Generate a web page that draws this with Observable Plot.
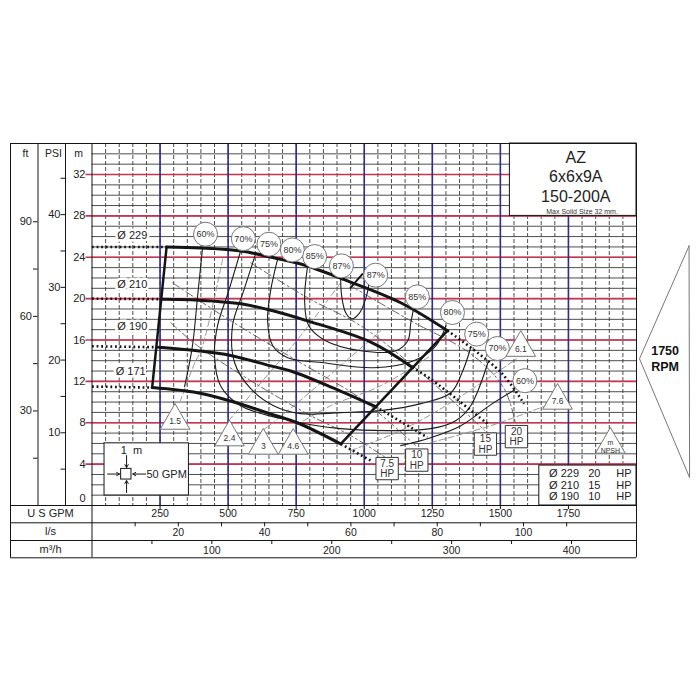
<!DOCTYPE html>
<html><head><meta charset="utf-8">
<script src="https://cdn.jsdelivr.net/npm/d3@7"></script>
<script src="https://cdn.jsdelivr.net/npm/@observablehq/plot@0.6"></script>
<style>html,body{margin:0;padding:0;background:#fff;}</style>
</head><body><div id="chart"></div>
<script>
// ---------- unit conversions ----------
const FT = 3.28084, PSI = 0.70307, LS = 15.8503, M3H = 4.40287;

// ---------- axis ticks ----------
const gpmTicks = [250, 500, 750, 1000, 1250, 1500, 1750];
const gpmMinor = d3.range(50, 2000, 50);
const headMinor = d3.range(1, 35, 1);
const redHeads = [4, 8, 12, 16, 20, 24, 28, 32];
const mLabels = [4, 8, 12, 16, 20, 24, 28, 32];
const ftLabels = [30, 60, 90];
const ftTicks = [15, 30, 45, 60, 75, 90];
const psiLabels = [10, 20, 30, 40];
const psiTicks = [5, 10, 15, 20, 25, 30, 35, 40, 45];
const lsLabels = [20, 40, 60, 80, 100];
const lsTicks = [10, 20, 30, 40, 50, 60, 70, 80, 90, 100, 110];
const m3hLabels = [100, 200, 300, 400];
const m3hTicks = [50, 100, 150, 200, 250, 300, 350, 400];

// ---------- head curves [GPM, m] ----------
const diaLabels = ["Ø 229", "Ø 210", "Ø 190", "Ø 171"];
const diaLabelGpm = [93, 93, 93, 87];
const diaLabelHead = [26.06, 21.33, 17.28, 12.96];
const shutoff = [25.0, 20.0, 15.4, 11.5];
const head229 = [[274,25.0],[399,24.9],[547,24.6],[693,23.8],[785,23.2],[950,21.6],[1134,19.6],[1306,16.9]];
const head210 = [[252,19.95],[362,19.9],[547,19.5],[668,18.8],[785,17.9],[1024,15.8],[1177,13.35]];
const head190 = [[246,15.3],[387,14.96],[509,14.5],[656,13.5],[730,13.0],[883,11.4],[1042,9.55]];
const head171 = [[221,11.4],[387,10.9],[509,10.1],[656,8.85],[754,8.0],[914,5.95]];
const tail229 = [[1306,16.9],[1502,12.87],[1587,9.82]];
const tail210 = [[1177,13.35],[1244,12.23],[1453,7.89]];
const tail190 = [[1042,9.55],[1232,6.59]];
const tail171 = [[914,5.95],[1024,4.34]];
const bepTick = [[950,21.07],[993,22.37]];

// ---------- efficiency curves ----------
const eff60L = [[406,24.9],[388,20.27],[369,15.44],[340,11.49]];
const eff60R = [[1134,5.79],[1244,6.56],[1355,7.72],[1465,9.75],[1553,11.2]];
const eff70 = [[546,24.62],[502,20.75],[461,17.37],[450,14.48],[472,11.58],[546,9.65],[730,8.2],[913,7.43],[1097,7.24],[1244,7.43],[1336,8.2],[1391,9.65],[1454,13.8]];
const eff75 = [[601,24.33],[557,20.75],[516,17.37],[524,13.8],[583,11.29],[667,9.65],[766,8.88],[913,8.98],[1061,9.17],[1208,9.85],[1318,10.9],[1362,13.03],[1391,15.25]];
const eff80 = [[682,23.84],[656,20.75],[645,17.86],[664,15.44],[719,14.29],[851,13.8],[1035,13.32],[1182,14.0],[1263,15.44],[1300,17.38]];
const eff85 = [[792,23.17],[781,19.79],[796,17.37],[858,15.93],[987,14.96],[1116,14.96],[1160,15.93],[1171,17.67],[1182,19.11]];
const eff87 = [[913,22.4],[917,20.27],[932,18.63],[954,18.05],[983,18.63],[1005,19.98],[1016,21.24],[1016,22.1]];
const effLabelText = ["60%","70%","75%","80%","85%","87%","87%","85%","80%","75%","70%","60%"];
const effLabelGpm  = [417, 556, 650, 736, 818, 916, 1042, 1195, 1324, 1413, 1489, 1590];
const effLabelHead = [26.23, 25.8, 25.26, 24.71, 24.07, 23.17, 22.27, 20.17, 18.66, 16.57, 15.18, 12.07];

// ---------- power curves ----------
const hp75 = [[289,17.67],[388,15.44],[583,12.07],[803,8.69],[950,6.76],[1079,4.63]];
const hp10 = [[296,21.53],[498,18.05],[766,13.8],[987,10.33],[1189,5.79]];
const hp15 = [[583,23.46],[792,20.08],[987,17.38],[1208,12.84],[1443,7.24]];
const hp20 = [[950,21.24],[1171,17.86],[1391,14.67],[1512,11.39],[1556,7.92]];
const hpText = ["7.5\nHP", "10\nHP", "15\nHP", "20\nHP"];
const hpGpm = [1084, 1193, 1445, 1559];
const hpHead = [3.57, 4.39, 5.94, 6.66];

// ---------- NPSH ----------
const npsh15 = [[480,23.84],[406,15.44],[373,13.51],[325,10.14]];
const npsh24 = [[502,8.2],[627,12.07],[766,16.41],[932,22.2]];
const npsh3  = [[627,7.24],[755,9.94],[913,13.51],[1061,16.89]];
const npsh46 = [[748,7.72],[877,9.65],[1061,11.58],[1244,14.48]];
const npsh61 = [[950,5.31],[1134,7.24],[1318,9.94],[1560,14.19]];
const npsh76 = [[1244,6.08],[1465,7.72],[1667,9.65]];
const npshText = ["1.5", "2.4", "3", "4.6", "6.1", "7.6"];
const npshGpm = [305, 505, 629, 739, 1575, 1710];
const npshHead = [8.2, 6.6, 5.79, 5.79, 15.25, 10.14];

// ---------- title / legend ----------
const titleLines = ["AZ", "6x6x9A", "150-200A"];
const titleHead = [33.65, 31.76, 29.88];
const legendDia = ["Ø 229", "Ø 210", "Ø 190"];
const legendHp = ["20", "15", "10"];
const legendHead = [3.12, 1.96, 0.87];
const rpmText = ["1750", "RPM"];
const rpmHead = [14.9, 13.4];

// ---------- layout boxes (data space) ----------
const titleBox = {x1: 1535, x2: 2000, y1: 28.0, y2: 35};
const legendBox = {x1: 1643, x2: 2000, y1: 0, y2: 3.86};
const scaleBox = {x1: 46, x2: 356, y1: 0.97, y2: 6.01};
const scaleSquare = {x1: 107, x2: 145, y1: 2.51, y2: 3.54};
const rpmShape = [[2193,25.1],[2011,14.19],[2195,2.7],[2193,25.1]];

const BLACK = "#151515", RED = "#c8344e", BLUE = "#2e2f88";
const font = "Liberation Sans, Arial, sans-serif";
const H = 362; // frame height px
const DOTS = "1.8,2.8";

const idx = a => a.map((_, i) => i);
const rowRule = dy => Plot.ruleY([0], {dy, insetLeft: -81.5, stroke: BLACK, strokeWidth: 1});
const header = (t, dx) => Plot.text([t], {frameAnchor: "top-left", dx, dy: 9.7, text: d => d, fontSize: 10.5, fill: "#222", textAnchor: "middle", lineAnchor: "middle"});
const rowLabel = (t, dy) => Plot.text([t], {frameAnchor: "bottom-left", dx: -41.5, dy, text: d => d, textAnchor: "middle", lineAnchor: "middle", fontSize: 11, fill: "#222"});

const marks = [
  // grid
  Plot.ruleY(headMinor, {stroke: "#3a3a3a", strokeWidth: 0.9}),
  Plot.ruleX(gpmMinor, {stroke: "#3a3a3a", strokeWidth: 0.9, strokeDasharray: "4,2"}),
  Plot.ruleY(redHeads, {stroke: RED, strokeWidth: 1.6, insetLeft: -6}),
  Plot.ruleX(gpmTicks, {stroke: BLUE, strokeWidth: 1.6}),

  // boxes
  Plot.rect([titleBox], {x1: "x1", x2: "x2", y1: "y1", y2: "y2", fill: "white", stroke: BLACK, strokeWidth: 1}),
  Plot.rect([legendBox], {x1: "x1", x2: "x2", y1: "y1", y2: "y2", fill: "white", stroke: BLACK, strokeWidth: 1}),
  Plot.rect([scaleBox], {x1: "x1", x2: "x2", y1: "y1", y2: "y2", fill: "white", stroke: BLACK, strokeWidth: 1}),

  // NPSH dashed lines
  ...[npsh15, npsh24, npsh3, npsh46, npsh61, npsh76].map(c =>
    Plot.line(c, {stroke: "#8a8a8a", strokeWidth: 0.9, strokeDasharray: "6,3", curve: "catmull-rom"})),
  // power dash-dot
  ...[hp75, hp10, hp15, hp20].map(c =>
    Plot.line(c, {stroke: "#555", strokeWidth: 0.9, strokeDasharray: "8,3,2,3", curve: "catmull-rom"})),
  // efficiency
  ...[eff60L, eff60R, eff70, eff75, eff80, eff85, eff87].map(c =>
    Plot.line(c, {stroke: "#1d1d1d", strokeWidth: 1.1, curve: "catmull-rom"})),

  // head curves
  ...[head229, head210, head190, head171].map((c, i) =>
    Plot.line([[0, shutoff[i]], c[0]], {stroke: BLACK, strokeWidth: 2.6, strokeDasharray: DOTS, strokeLinecap: "butt"})),
  ...[tail229, tail210, tail190, tail171].map(c =>
    Plot.line(c, {stroke: BLACK, strokeWidth: 2.6, strokeDasharray: DOTS, strokeLinecap: "butt", curve: "catmull-rom"})),
  ...[head229, head210, head190, head171].map(c =>
    Plot.line(c, {stroke: BLACK, strokeWidth: 3, curve: "catmull-rom"})),
  Plot.line([head229[0], head171[0]], {stroke: BLACK, strokeWidth: 2.5}),
  Plot.line([head229[head229.length-1], head171[head171.length-1]], {stroke: BLACK, strokeWidth: 2.5}),
  Plot.line(bepTick, {stroke: BLACK, strokeWidth: 2}),

  // efficiency labels
  Plot.dot(idx(effLabelText), {x: i => effLabelGpm[i], y: i => effLabelHead[i], r: 12, fill: "white", stroke: "#777", strokeWidth: 1}),
  Plot.text(idx(effLabelText), {x: i => effLabelGpm[i], y: i => effLabelHead[i], text: i => effLabelText[i], fontSize: 9, fill: "#333"}),
  // NPSH triangles
  Plot.dot(idx(npshText), {x: i => npshGpm[i], y: i => npshHead[i], symbol: "triangle", r: 11, fill: "white", stroke: "#777", strokeWidth: 1}),
  Plot.text(idx(npshText), {x: i => npshGpm[i], y: i => npshHead[i], text: i => npshText[i], fontSize: 8.5, fill: "#333", dy: 1}),
  Plot.dot([0], {x: 1904, y: 5.89, symbol: "triangle", r: 11, fill: "white", stroke: "#777", strokeWidth: 1}),
  Plot.text(["m\nNPSH"], {x: 1904, y: 5.89, text: d => d, fontSize: 7, lineHeight: 1.05, fill: "#333", dy: 2}),
  // HP boxes
  Plot.dot(idx(hpText), {x: i => hpGpm[i], y: i => hpHead[i], symbol: "square", r: 12.6, fill: "white", stroke: "#333", strokeWidth: 1}),
  Plot.text(idx(hpText), {x: i => hpGpm[i], y: i => hpHead[i], text: i => hpText[i], fontSize: 10, lineHeight: 1.05, fill: "#333"}),
  // diameter labels
  Plot.text(idx(diaLabels), {x: i => diaLabelGpm[i], y: i => diaLabelHead[i], text: i => diaLabels[i], fontSize: 11, fill: "#222", stroke: "white", strokeWidth: 5, textAnchor: "start"}),

  // title box text
  Plot.text(idx(titleLines), {x: 1777, y: i => titleHead[i], text: i => titleLines[i], fontSize: 16, fill: "#222"}),
  Plot.text(["Max Solid Size 32 mm."], {x: 1800, y: 28.4, text: d => d, fontSize: 7, fill: "#333"}),
  // legend box text
  Plot.text(idx(legendDia), {x: 1734, y: i => legendHead[i], text: i => legendDia[i], fontSize: 11, fill: "#222"}),
  Plot.text(idx(legendHp), {x: 1845, y: i => legendHead[i], text: i => legendHp[i], fontSize: 11, fill: "#222"}),
  Plot.text(idx(legendHp), {x: 1954, y: i => legendHead[i], text: () => "HP", fontSize: 11, fill: "#222"}),
  // scale box
  Plot.rect([scaleSquare], {x1: "x1", x2: "x2", y1: "y1", y2: "y2", fill: "white", stroke: BLACK}),
  Plot.arrow([0], {x1: 127, y1: 4.83, x2: 127, y2: 3.67, stroke: BLACK, headLength: 5, strokeWidth: 1}),
  Plot.arrow([0], {x1: 127, y1: 1.25, x2: 127, y2: 2.41, stroke: BLACK, headLength: 5, strokeWidth: 1}),
  Plot.arrow([0], {x1: 57, y1: 3.04, x2: 101, y2: 3.04, stroke: BLACK, headLength: 5, strokeWidth: 1}),
  Plot.arrow([0], {x1: 197, y1: 3.04, x2: 150, y2: 3.04, stroke: BLACK, headLength: 5, strokeWidth: 1}),
  Plot.text(["1  m"], {x: 145, y: 5.31, text: d => d, fontSize: 11, fill: "#222"}),
  Plot.text(["50 GPM"], {x: 200, y: 3.04, text: d => d, fontSize: 11, fill: "#222", textAnchor: "start"}),

  // RPM arrow
  Plot.line(rpmShape, {stroke: "#777", strokeWidth: 1}),
  Plot.text(idx(rpmText), {x: 2105, y: i => rpmHead[i], text: i => rpmText[i], fontSize: 12.5, fontWeight: "bold", fill: "#111"}),

  // table frame
  Plot.ruleY([35], {insetLeft: -81.5, stroke: BLACK, strokeWidth: 1}),
  rowRule(0), rowRule(17.3), rowRule(35), rowRule(52.3),
  Plot.ruleX([0], {dx: -81.5, insetBottom: -52.3, stroke: BLACK, strokeWidth: 1}),
  Plot.ruleX([0], {insetBottom: -52.3, stroke: BLACK, strokeWidth: 1}),
  Plot.ruleX([2000], {insetBottom: -52.3, stroke: BLACK, strokeWidth: 1}),
  Plot.ruleX([0], {dx: -54, stroke: BLACK, strokeWidth: 1}),
  Plot.ruleX([0], {dx: -26.5, stroke: BLACK, strokeWidth: 1}),

  // left headers
  header("ft", -66.5), header("PSI", -38.5), header("m", -13.5),

  // m axis
  Plot.text(mLabels, {y: d => d, frameAnchor: "left", dx: -6.5, text: d => String(d), textAnchor: "end", lineAnchor: "middle", fontSize: 11, fill: "#222"}),
  Plot.text([0], {y: d => d, frameAnchor: "left", dx: -6.5, dy: -7, text: d => String(d), textAnchor: "end", lineAnchor: "middle", fontSize: 11, fill: "#222"}),
  // ft axis
  Plot.ruleY(ftTicks, {y: d => d / FT, insetLeft: -58.5, insetRight: 598.5, stroke: BLACK, strokeWidth: 1}),
  Plot.text(ftLabels, {y: d => d / FT, frameAnchor: "left", dx: -60, text: d => String(d), textAnchor: "end", lineAnchor: "middle", fontSize: 11, fill: "#222"}),
  // PSI axis
  Plot.ruleY(psiTicks, {y: d => d * PSI, insetLeft: -31, insetRight: 571, stroke: BLACK, strokeWidth: 1}),
  Plot.text(psiLabels, {y: d => d * PSI, frameAnchor: "left", dx: -31.5, text: d => String(d), textAnchor: "end", lineAnchor: "middle", fontSize: 11, fill: "#222"}),

  // bottom rows
  rowLabel("U S GPM", 8.3), rowLabel("l/s", 26), rowLabel("m³/h", 44),
  Plot.ruleX(gpmTicks, {insetTop: H, insetBottom: -4, stroke: BLACK, strokeWidth: 1}),
  Plot.text(gpmTicks, {x: d => d, frameAnchor: "bottom", dy: 8.5, text: d => String(d), lineAnchor: "middle", fontSize: 10.5, fill: "#222"}),
  Plot.ruleX(lsTicks, {x: d => d * LS, insetTop: H + 17.3, insetBottom: -(17.3 + 4), stroke: BLACK, strokeWidth: 1}),
  Plot.text(lsLabels, {x: d => d * LS, frameAnchor: "bottom", dy: 27, text: d => String(d), lineAnchor: "middle", fontSize: 10.5, fill: "#222"}),
  Plot.ruleX(m3hTicks, {x: d => d * M3H, insetTop: H + 35, insetBottom: -(35 + 4), stroke: BLACK, strokeWidth: 1}),
  Plot.text(m3hLabels, {x: d => d * M3H, frameAnchor: "bottom", dy: 45, text: d => String(d), lineAnchor: "middle", fontSize: 10.5, fill: "#222"})
];

const chart = Plot.plot({
  width: 700, height: 700,
  marginLeft: 91.5, marginRight: 64, marginTop: 143, marginBottom: 195,
  x: {domain: [0, 2000], axis: null},
  y: {domain: [0, 35], axis: null},
  style: {fontFamily: font, background: "white", overflow: "visible"},
  marks
});
document.getElementById("chart").appendChild(chart);
</script></body></html>
